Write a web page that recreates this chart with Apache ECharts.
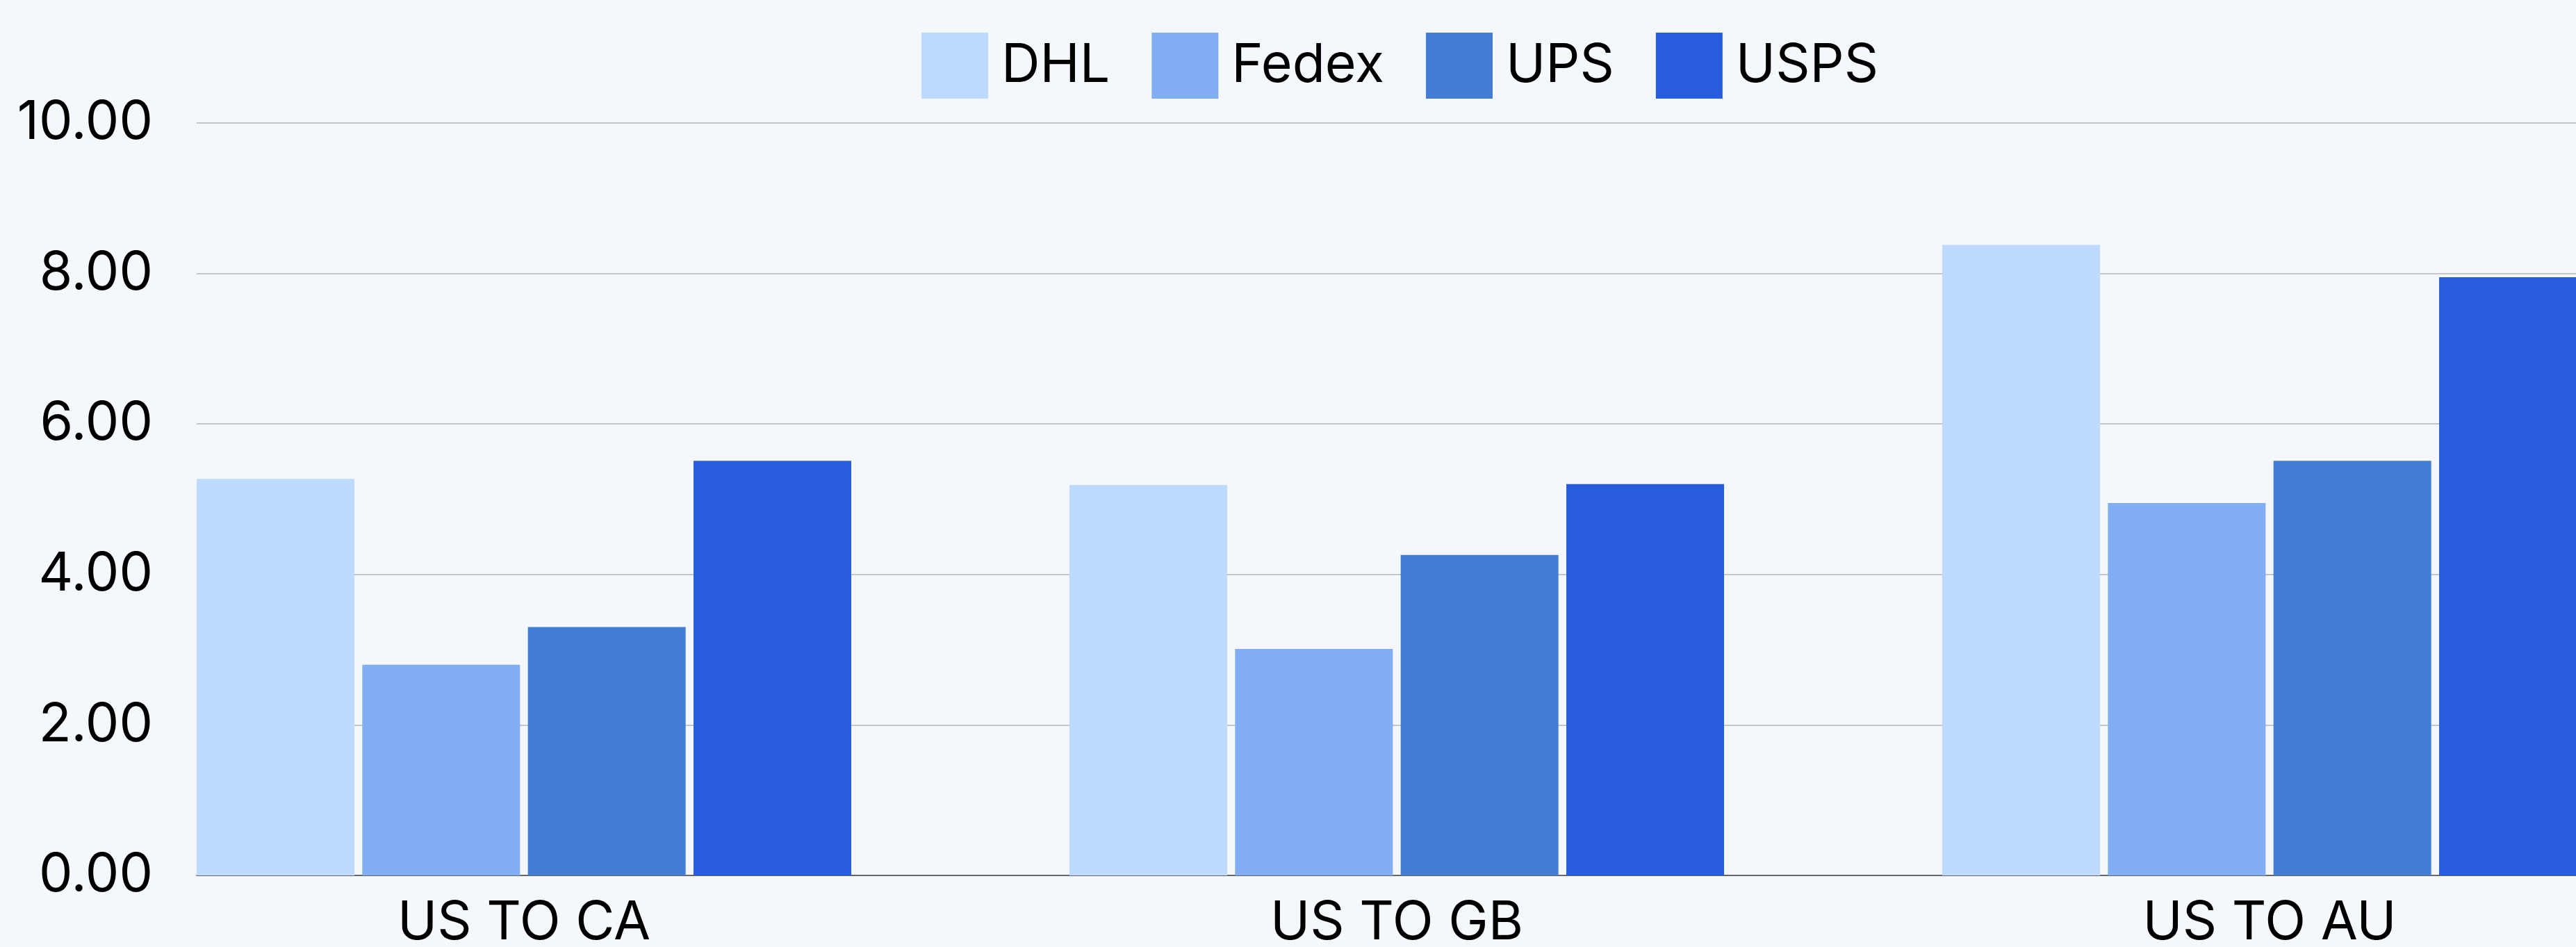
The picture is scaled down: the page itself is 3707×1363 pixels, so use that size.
<!doctype html>
<html>
<head>
<meta charset="utf-8">
<title>Shipping rates</title>
<style>
  html, body { margin: 0; padding: 0; background: #f4f7fc; }
  #chart { width: 3707px; height: 1363px; }
</style>
</head>
<body>
<div id="chart"></div>
<script src="https://cdn.jsdelivr.net/npm/echarts@6/dist/echarts.min.js"></script>
<script>
// data
var routes = ['US TO CA', 'US TO GB', 'US TO AU'];
var carriers = ['DHL', 'Fedex', 'UPS', 'USPS'];
var dhl = [5.27, 5.19, 8.38];
var fedex = [2.80, 3.01, 4.95];
var ups = [3.30, 4.26, 5.51];
var usps = [5.51, 5.20, 7.95];
var colors = ['#bedafe', '#82aff3', '#437dd4', '#265cdd'];

var font = 'Inter, "Noto Sans", sans-serif';
var chart = echarts.init(document.getElementById('chart'));

function barSeries(name, data) {
  return {
    name: name,
    type: 'bar',
    xAxisIndex: 1,
    yAxisIndex: 1,
    barWidth: 227,
    barGap: '5%',
    data: data
  };
}

var option = {
  backgroundColor: '#f4f7fc',
  color: colors,
  animation: false,
  legend: {
    data: carriers,
    top: 42,
    left: 1321,
    icon: 'rect',
    itemWidth: 96,
    itemHeight: 95,
    itemGap: 60,
    textStyle: { fontFamily: font, fontSize: 77, color: '#000', padding: [0, 0, 0, 14] }
  },
  grid: [
    // lines and y labels
    { left: 283, right: 0, top: 177, bottom: 103 },
    // bars, the last group runs past the right edge
    { left: 126, width: 3768, top: 177, bottom: 103, outerBoundsMode: 'none', containLabel: false }
  ],
  xAxis: [
    {
      type: 'category', gridIndex: 0, data: routes,
      axisLine: { lineStyle: { color: '#666', width: 2 } },
      axisTick: { show: false },
      axisLabel: { show: false }
    },
    {
      type: 'category', gridIndex: 1, data: routes,
      axisLine: { show: false },
      axisTick: { show: false },
      axisLabel: { fontFamily: font, fontSize: 77, color: '#000', margin: 30 }
    }
  ],
  yAxis: [
    {
      type: 'value', gridIndex: 0, min: 0, max: 10, interval: 2,
      axisLine: { show: false },
      axisTick: { show: false },
      splitLine: { lineStyle: { color: '#c3c6cc', width: 2 } },
      axisLabel: {
        fontFamily: font, fontSize: 77, color: '#000', margin: 63,
        formatter: function (v) { return v.toFixed(2); }
      }
    },
    {
      type: 'value', gridIndex: 1, min: 0, max: 10, interval: 2, show: false
    }
  ],
  series: [
    barSeries('DHL', dhl),
    barSeries('Fedex', fedex),
    barSeries('UPS', ups),
    barSeries('USPS', usps)
  ]
};
chart.setOption(option);
</script>
</body>
</html>
